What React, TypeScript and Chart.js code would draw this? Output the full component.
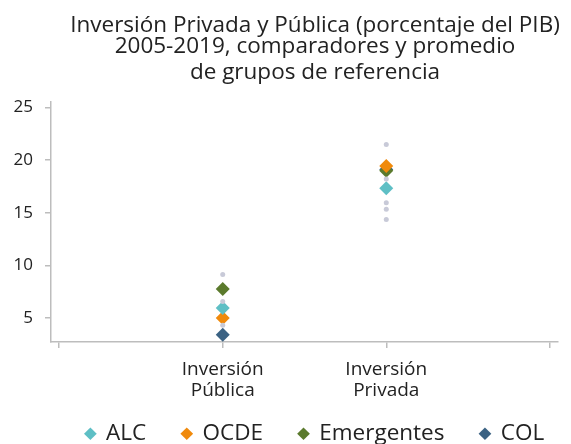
import React, { useEffect, useRef } from "react";
import { Chart, registerables } from "chart.js";

Chart.register(...registerables);

const titleLines = ["Inversión Privada y Pública (porcentaje del PIB)", "2005-2019, comparadores y promedio"];
const subtitleLine = "de grupos de referencia";

const categoryPositions = [1, 2];
const categoryLabels = [["Inversión", "Pública"], ["Inversión", "Privada"]];
const xTickValues = [0, 1, 2, 3];
const yTickValues = [5, 10, 15, 20, 25];

const alc = [5.95, 17.32];
const ocde = [5.0, 19.44];
const emergentes = [7.75, 18.99];
const col = [3.39, 19.12];

const paisesPublica = [9.13, 6.57, 4.3];
const paisesPrivada = [21.5, 18.2, 15.96, 15.33, 14.35];

const seriesNames = ["ALC", "OCDE", "Emergentes", "COL"];
const seriesColors = ["#5ebfc5", "#f08a0c", "#5b7a2d", "#3b6283"];
const seriesValues = [alc, ocde, emergentes, col];

const FONT = "'Open Sans', sans-serif";

export default function App() {
  const ref = useRef<HTMLCanvasElement | null>(null);

  useEffect(() => {
    if (!ref.current) return;
    const greyPoints = [
      ...paisesPublica.map((v) => ({ x: categoryPositions[0], y: v })),
      ...paisesPrivada.map((v) => ({ x: categoryPositions[1], y: v })),
    ];
    const datasets: any[] = [
      {
        label: "Países",
        data: greyPoints,
        backgroundColor: "#c8cad8",
        borderWidth: 0,
        pointRadius: 2.5,
        pointStyle: "circle",
      },
      ...seriesNames.map((name, i) => ({
        label: name,
        data: seriesValues[i].map((v, j) => ({ x: categoryPositions[j], y: v })),
        backgroundColor: seriesColors[i],
        borderColor: seriesColors[i],
        borderWidth: 0,
        pointRadius: 7,
        pointStyle: "rectRot",
      })),
    ];

    const chart = new Chart(ref.current, {
      type: "scatter",
      data: { datasets },
      options: {
        animation: false,
        responsive: false,
        devicePixelRatio: 1,
        layout: { padding: 0 },
        plugins: {
          title: {
            display: true,
            text: titleLines,
            color: "#222",
            font: { family: FONT, size: 22.5, weight: "normal", lineHeight: "21.5px" },
            padding: { top: 14.5, bottom: 0 },
          },
          subtitle: {
            display: true,
            text: subtitleLine,
            color: "#222",
            font: { family: FONT, size: 22.5, weight: "normal", lineHeight: "22px" },
            padding: { top: 4, bottom: 18.5 },
          },
          legend: {
            position: "bottom",
            labels: {
              usePointStyle: true,
              boxWidth: 9,
              boxHeight: 9,
              padding: 36,
              color: "#222",
              font: { family: FONT, size: 22.5 },
              filter: (item: any) => item.text !== "Países",
            },
          },
          tooltip: { enabled: false },
        },
        scales: {
          x: {
            type: "linear",
            min: -0.05,
            max: 3.05,
            afterBuildTicks: (scale: any) => {
              scale.ticks = xTickValues.map((v) => ({ value: v }));
            },
            afterFit: (scale: any) => {
              scale.height = 44.5;
            },
            ticks: {
              autoSkip: false,
              maxRotation: 0,
              mirror: true,
              padding: -38.5,
              color: "#222",
              font: { family: FONT, size: 19, lineHeight: "21px" },
              callback: (value: any) => {
                const idx = categoryPositions.indexOf(Number(value));
                return idx >= 0 ? categoryLabels[idx] : "";
              },
            },
            grid: { drawOnChartArea: false, drawTicks: true, tickLength: 6, color: "#bdbdbd", lineWidth: 1.5 },
            border: { color: "#bdbdbd", width: 1.5 },
          },
          y: {
            type: "linear",
            min: 2.71,
            max: 25.53,
            afterBuildTicks: (scale: any) => {
              scale.ticks = yTickValues.map((v) => ({ value: v }));
            },
            afterFit: (scale: any) => {
              scale.width = 51;
            },
            ticks: {
              padding: 12,
              color: "#222",
              font: { family: FONT, size: 17 },
            },
            grid: { drawOnChartArea: false, drawTicks: true, tickLength: 6, color: "#bdbdbd", lineWidth: 1.5 },
            border: { color: "#bdbdbd", width: 1.5 },
          },
          yRight: {
            type: "linear",
            position: "right",
            display: true,
            ticks: { display: false },
            grid: { display: false },
            border: { display: false },
            afterFit: (scale: any) => {
              scale.width = 72;
            },
          },
        },
      } as any,
    });
    return () => chart.destroy();
  }, []);

  return (
    <div
      style={{
        position: "fixed",
        left: 0,
        top: 0,
        width: 571,
        height: 444,
        overflow: "hidden",
        background: "#fff",
      }}
    >
      <canvas ref={ref} width={630} height={455} style={{ display: "block", width: 630, height: 455 }} />
    </div>
  );
}
